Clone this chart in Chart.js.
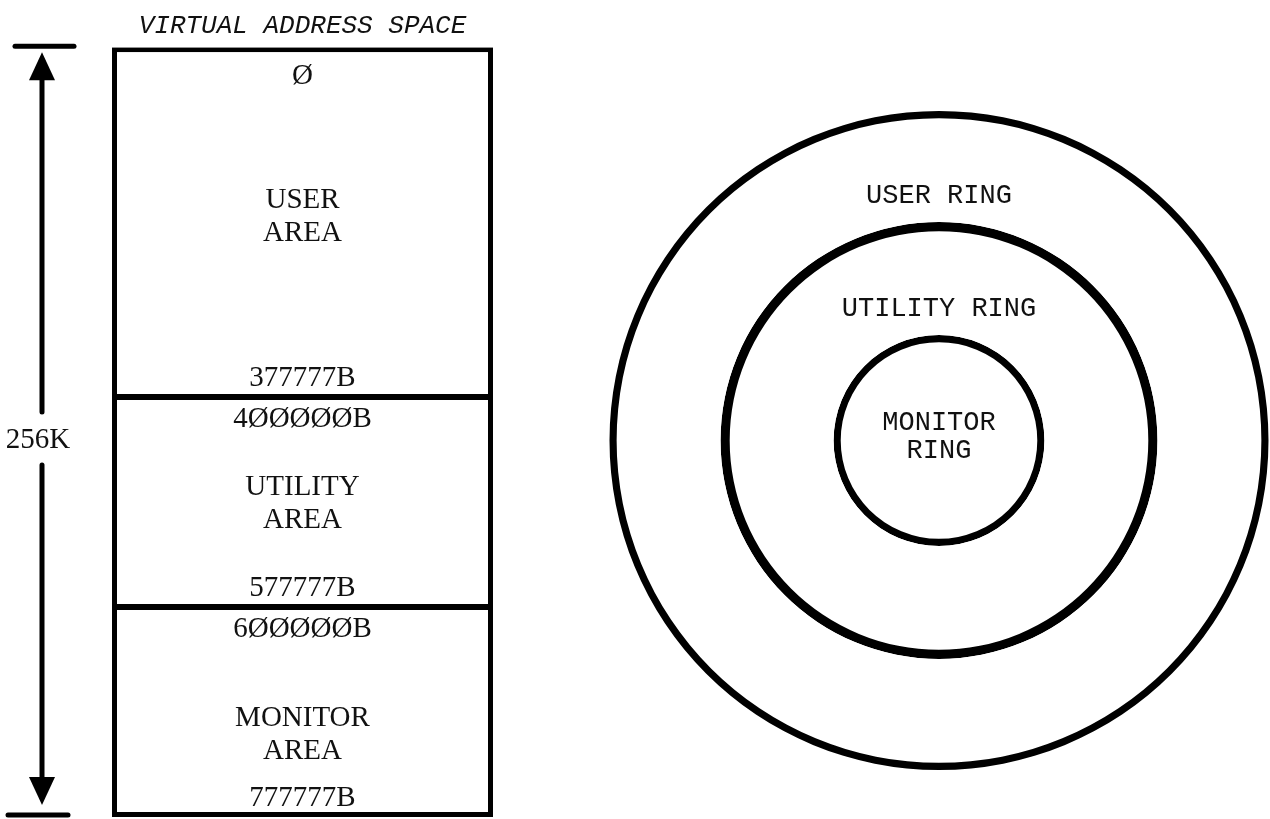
<!DOCTYPE html>
<html>
<head>
<meta charset="utf-8">
<script src="https://cdn.jsdelivr.net/npm/chart.js@4.4.1/dist/chart.umd.min.js"></script>
<style>
  body { margin: 0; background: #fff; }
  #wrap { position: relative; width: 1270px; height: 819px; }
  #spaceChart { position: absolute; left: 0; top: 0; }
  #ringChart { position: absolute; left: 540px; top: 0; }
</style>
</head>
<body>
<div id="wrap">
  <canvas id="spaceChart" width="540" height="819"></canvas>
  <canvas id="ringChart" width="730" height="819"></canvas>
</div>
<script>
// address space, top to bottom (heights as drawn)
const areaNames = [['USER', 'AREA'], ['UTILITY', 'AREA'], ['MONITOR', 'AREA']];
const areaSpan = [5, 3, 3];
const areaStart = ['Ø', '4ØØØØØB', '6ØØØØØB'];
const areaEnd = ['377777B', '577777B', '777777B'];
const spaceSize = '256K';
const spaceTitle = 'VIRTUAL ADDRESS SPACE';

// protection rings, outside in (radius relative to monitor ring)
const ringNames = [['USER RING'], ['UTILITY RING'], ['MONITOR', 'RING']];
const ringRadius = [3.2, 2.1, 1.0];

const ink = '#111';
const total = areaSpan.reduce((a, b) => a + b, 0);

const edges = [
  { top: 5, bottom: 3, left: 5, right: 5 },
  { top: 3, bottom: 3, left: 5, right: 5 },
  { top: 3, bottom: 5, left: 5, right: 5 },
];
// nudges for the area names, as typed on the original sheet
const nameShift = [-5, 2, 23];

const areaLabels = {
  id: 'areaLabels',
  afterDatasetsDraw(chart) {
    const ctx = chart.ctx;
    ctx.save();
    ctx.fillStyle = ink;
    ctx.font = '29px "Liberation Serif"';
    ctx.textAlign = 'center';
    ctx.textBaseline = 'middle';
    chart.data.datasets.forEach((ds, i) => {
      const bar = chart.getDatasetMeta(i).data[0];
      const top = Math.min(bar.y, bar.base);
      const bottom = Math.max(bar.y, bar.base);
      ctx.fillText(areaStart[i], bar.x, top + (i === 0 ? 29 : 22));
      ctx.fillText(areaEnd[i], bar.x, bottom - 19);
      const mid = (top + bottom) / 2 + nameShift[i];
      const lines = areaNames[i];
      lines.forEach((t, j) => ctx.fillText(t, bar.x, mid + (j - (lines.length - 1) / 2) * 33));
    });
    ctx.restore();
  }
};

const sizeArrow = {
  id: 'sizeArrow',
  afterDraw(chart) {
    const ctx = chart.ctx;
    const y = chart.scales.y;
    const top = y.getPixelForValue(0);
    const bottom = y.getPixelForValue(total);
    const x = chart.chartArea.left - 70;
    const mid = (top + bottom) / 2;
    const seg = (x1, y1, x2, y2) => {
      ctx.beginPath();
      ctx.moveTo(x1, y1);
      ctx.lineTo(x2, y2);
      ctx.stroke();
    };
    const head = (tip, dir) => {
      ctx.beginPath();
      ctx.moveTo(x, tip);
      ctx.lineTo(x - 13, tip + dir * 28);
      ctx.lineTo(x + 13, tip + dir * 28);
      ctx.closePath();
      ctx.fill();
    };
    ctx.save();
    ctx.strokeStyle = '#000';
    ctx.fillStyle = '#000';
    ctx.lineWidth = 5;
    ctx.lineCap = 'round';
    seg(x - 27, top - 1, x + 32, top - 1);
    seg(x - 34, bottom - 2, x + 26, bottom - 2);
    seg(x, top + 30, x, mid - 20);
    seg(x, mid + 33, x, bottom - 38);
    head(top + 5, 1);
    head(bottom - 12, -1);
    ctx.fillStyle = ink;
    ctx.font = '29px "Liberation Serif"';
    ctx.textAlign = 'center';
    ctx.textBaseline = 'middle';
    ctx.fillText(spaceSize, x - 4, mid + 8);
    ctx.restore();
  }
};

new Chart(document.getElementById('spaceChart'), {
  type: 'bar',
  data: {
    labels: [spaceTitle],
    datasets: areaNames.map((n, i) => ({
      label: n.join(' '),
      data: [areaSpan[i]],
      backgroundColor: '#fff',
      borderColor: '#000',
      borderWidth: edges[i],
      borderSkipped: false,
      inflateAmount: 0,
      barPercentage: 1,
      categoryPercentage: 1,
    })),
  },
  options: {
    responsive: false,
    animation: false,
    events: [],
    layout: { padding: { left: 112, right: 47, top: 0, bottom: 2 } },
    scales: {
      x: { stacked: true, display: false },
      y: { stacked: true, display: false, reverse: true, min: 0, max: total },
    },
    plugins: {
      legend: { display: false },
      tooltip: { enabled: false },
      title: {
        display: true,
        text: spaceTitle,
        color: ink,
        font: { family: 'Liberation Mono', size: 26, style: 'italic', weight: 'normal' },
        padding: { top: 11, bottom: 5 },
      },
    },
  },
  plugins: [areaLabels, sizeArrow],
});

// rings: a black band for each circle line and a white band inside it
const ringLine = [0.07, 0.09, 0.07];
const ringSets = [];
ringRadius.forEach((r, i) => {
  const next = i + 1 < ringRadius.length ? ringRadius[i + 1] + ringLine[i + 1] / 2 : 0;
  ringSets.push({ label: ringNames[i].join(' ') + ' line', data: [1], backgroundColor: '#000', borderWidth: 0, weight: ringLine[i] });
  ringSets.push({ label: ringNames[i].join(' '), data: [1], backgroundColor: '#fff', borderWidth: 0, weight: r - ringLine[i] / 2 - next });
});

const ringLabels = {
  id: 'ringLabels',
  afterDatasetsDraw(chart) {
    const ctx = chart.ctx;
    ctx.save();
    ctx.fillStyle = ink;
    ctx.font = '27px "Liberation Mono"';
    ctx.textAlign = 'center';
    ctx.textBaseline = 'middle';
    ringNames.forEach((lines, i) => {
      const arc = chart.getDatasetMeta(i * 2 + 1).data[0];
      const inner = arc.innerRadius;
      const outer = arc.outerRadius;
      const cy = inner > 0 ? arc.y - (inner + 0.25 * (outer - inner)) : arc.y - 4;
      const gap = inner > 0 ? 33 : 28;
      lines.forEach((t, j) => ctx.fillText(t, arc.x, cy + (j - (lines.length - 1) / 2) * gap));
    });
    ctx.restore();
  }
};

new Chart(document.getElementById('ringChart'), {
  type: 'doughnut',
  data: { labels: ['ring'], datasets: ringSets },
  options: {
    responsive: false,
    animation: false,
    events: [],
    cutout: 0,
    layout: { padding: { left: 69, right: 1, top: 111, bottom: 49 } },
    plugins: { legend: { display: false }, tooltip: { enabled: false } },
  },
  plugins: [ringLabels],
});
</script>
</body>
</html>
